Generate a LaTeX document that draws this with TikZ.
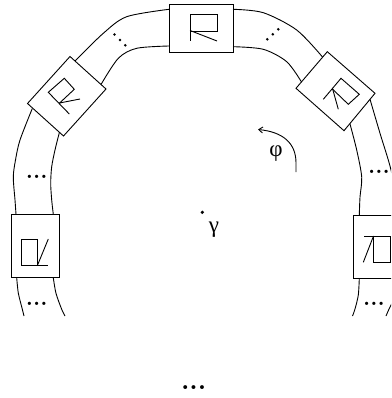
\documentclass[tikz,border=0pt]{standalone}
\usepackage{fontspec}
\newfontfamily\greekfont{Liberation Serif}
\usetikzlibrary{arrows.meta}
\begin{document}
\begin{tikzpicture}[x=1pt,y=-1pt,line width=0.9pt,
  dotstxt/.style={inner sep=0pt,font=\bfseries\fontsize{23}{23}\selectfont},
  bigdots/.style={inner sep=0pt,font=\bfseries\fontsize{27}{27}\selectfont},
  greek/.style={inner sep=0pt,font=\greekfont\fontsize{23}{23}\selectfont}]
\useasboundingbox (0,0) rectangle (391,398);
\clip (0,0) rectangle (391,398);
% boxes
\draw (169,4) rectangle (233,52);
\draw (70,56.5) -- (106,89) -- (63.5,136) -- (27.5,103.5) -- cycle;
\draw (327.3,51.7) -- (375,93.3) -- (344,130.7) -- (296,88.3) -- cycle;
\draw (11.7,214.3) rectangle (59,277.7);
\draw (353.3,215) rectangle (400,278);
% glyphs
\draw (190,41) -- (190,14) -- (217,14) -- (217,31) -- (190,31);
\draw (190,30.5) -- (217,41);
\draw (69.3,114) -- (48.3,92.3) -- (64.3,78.3) -- (74.3,89.3) -- (59.3,103.3);
\draw (59.5,103) -- (80,99);
\draw (323.3,99.3) -- (341,78.3) -- (359.3,94.3) -- (348.3,104.3) -- (332.7,89.3);
\draw (332.5,88.5) -- (338.3,109.3);
\draw (21.7,239) rectangle (37.3,265.7);
\draw (37.3,265.7) -- (48.3,265.7);
\draw (37.3,265.7) -- (48.3,239);
\draw (390.5,236) -- (363.8,236);
\draw (373.3,236) -- (373.3,262.3) -- (390.5,262.3) -- (390.5,236);
\draw (373.5,236) -- (363.3,262.3);
% bands
\draw plot[smooth] coordinates {(169,9.3) (126.7,16.7) (103.3,33.3) (75,61)};
\draw plot[smooth] coordinates {(169,46) (136.7,48.3) (118.3,58.3) (101,84.5)};
\draw plot[smooth] coordinates {(233,9.3) (263.3,12.7) (296.7,30) (322.5,57)};
\draw plot[smooth] coordinates {(233,46.7) (263.3,49.3) (286.7,61.7) (301.5,82)};
\draw plot[smooth] coordinates {(32.3,108.5) (20,140) (15.5,160) (13.3,177) (15,200) (16,214.3)};
\draw plot[smooth] coordinates {(59.5,132) (55,150) (51.7,166.7) (50.7,183.3) (51.7,200) (53.3,214.3)};
\draw plot[smooth] coordinates {(350,124) (356.7,150) (361.7,177) (360,197) (359.3,215)};
\draw plot[smooth] coordinates {(370,99.3) (380,133.3) (391,170) (398,210)};
\draw plot[smooth] coordinates {(16.7,277.7) (18.3,293) (22,308) (24,316)};
\draw plot[smooth] coordinates {(53.3,277.7) (56,293.3) (61.7,309.3) (65,316)};
\draw plot[smooth] coordinates {(359.3,278) (358.3,295) (355,309) (352.5,316)};
\draw plot[smooth] coordinates {(396,296) (390,307) (386,316)};
% diagonal dots
\fill (114.5,34.5) circle (1.4) (120,40) circle (1.4) (125.3,45.3) circle (1.4);
\fill (278.3,29.3) circle (1.4) (272.8,34.3) circle (1.4) (267.3,39.3) circle (1.4);
% text dots
\node[dotstxt] (d3) at (36.7,177.3) {...};
\node[dotstxt] (d4) at (379,172) {...};
\node[dotstxt] (d5) at (36.7,304) {...};
\node[dotstxt] (d6) at (374,304) {...};
\node[bigdots] (d7) at (193.7,387.3) {...};
% center and angle
\fill (202.3,212.3) circle (1.8);
\node[greek] (gamma) at (214,230) {γ};
\node[greek] (phi) at (276,154) {φ};
\draw[-{Straight Barb[length=4pt,width=6pt]}] (296,172) -- (296,163) .. controls (296,143) and (283,132) .. (258,129.5);
\end{tikzpicture}
\end{document}
